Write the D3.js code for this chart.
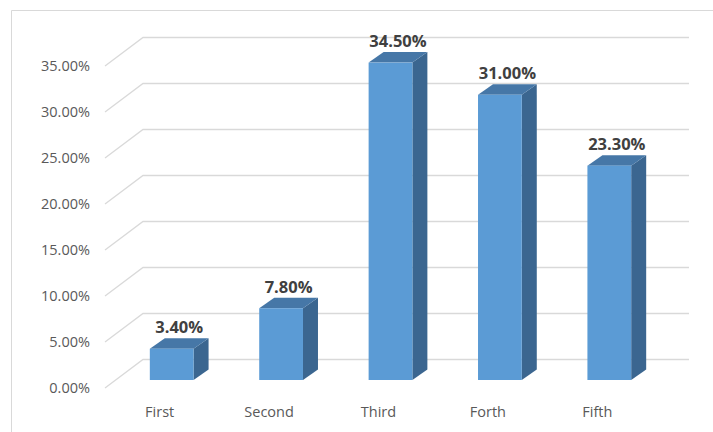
<!DOCTYPE html>
<html><head><meta charset="utf-8">
<script src="https://cdn.jsdelivr.net/npm/d3@7"></script>
<style>body{margin:0;background:#fff;}svg{display:block;}</style>
</head><body>
<svg id="c" width="713" height="432"></svg>
<script>
const categories = ["First","Second","Third","Forth","Fifth"];
const values = [0.034, 0.078, 0.345, 0.31, 0.233];
const valueLabels = ["3.40%","7.80%","34.50%","31.00%","23.30%"];
const yTicks = [0,0.05,0.10,0.15,0.20,0.25,0.30,0.35];

const svg = d3.select("#c");
const font = "'Open Sans', 'Noto Sans', sans-serif";
// chart border
svg.append("path").attr("d","M11.5,432 L11.5,10.5 L713,10.5").attr("fill","none").attr("stroke","#d9d9d9").attr("stroke-width",1);

const wallDX = 38, wallDY = -28.5;
const x = d3.scaleBand().domain(categories).range([105, 652]).paddingInner(0.6).paddingOuter(0.3);
const y = d3.scaleLinear().domain([0, 0.35]).range([388, 66]);
const gridRight = 689;

// gridlines: diagonal + back wall
const g = svg.append("g");
yTicks.forEach(t => {
  const yf = y(t);
  g.append("path")
    .attr("d", `M105,${yf} L${105+wallDX},${yf+wallDY} L${gridRight},${yf+wallDY}`)
    .attr("fill","none").attr("stroke","#d9d9d9").attr("stroke-width",1.3);
});
// y labels
const yFmt = d3.format(".2%");
svg.append("g").selectAll("text").data(yTicks).join("text")
  .attr("x", 90).attr("y", d => y(d) + 5)
  .attr("text-anchor","end").attr("font-family",font).attr("font-size","14.5px").attr("fill","#595959")
  .text(d => yFmt(d));

// bars
const offX = 12, offY = -8; // bar front plane offset into depth
const bdx = 15, bdy = -10.5; // bar depth
const bw = x.bandwidth();
const bars = svg.append("g");
categories.forEach((c, i) => {
  const x0 = x(c) + offX, x1 = x0 + bw;
  const yb = y(0) + offY, yt = y(values[i]) + offY;
  // side
  bars.append("path").attr("d", `M${x1},${yt} L${x1+bdx},${yt+bdy} L${x1+bdx},${yb+bdy} L${x1},${yb} Z`).attr("fill","#3b6690");
  // top
  bars.append("path").attr("d", `M${x0},${yt} L${x0+bdx},${yt+bdy} L${x1+bdx},${yt+bdy} L${x1},${yt} Z`).attr("fill","#4677a7");
  // front
  bars.append("rect").attr("x", x0).attr("y", yt).attr("width", bw).attr("height", yb - yt).attr("fill","#5b9bd5");
  // data label
  bars.append("text").attr("x", x0 + bw/2 + bdx/2).attr("y", yt + bdy - 5)
    .attr("text-anchor","middle").attr("font-family",font).attr("font-weight","bold")
    .attr("font-size","16.5px").attr("fill","#404040").text(valueLabels[i]);
});

// category labels
svg.append("g").selectAll("text").data(categories).join("text")
  .attr("x", d => x(d) + bw/2).attr("y", 417)
  .attr("text-anchor","middle").attr("font-family",font).attr("font-size","14.5px").attr("fill","#595959")
  .text(d => d);
</script>
</body></html>
